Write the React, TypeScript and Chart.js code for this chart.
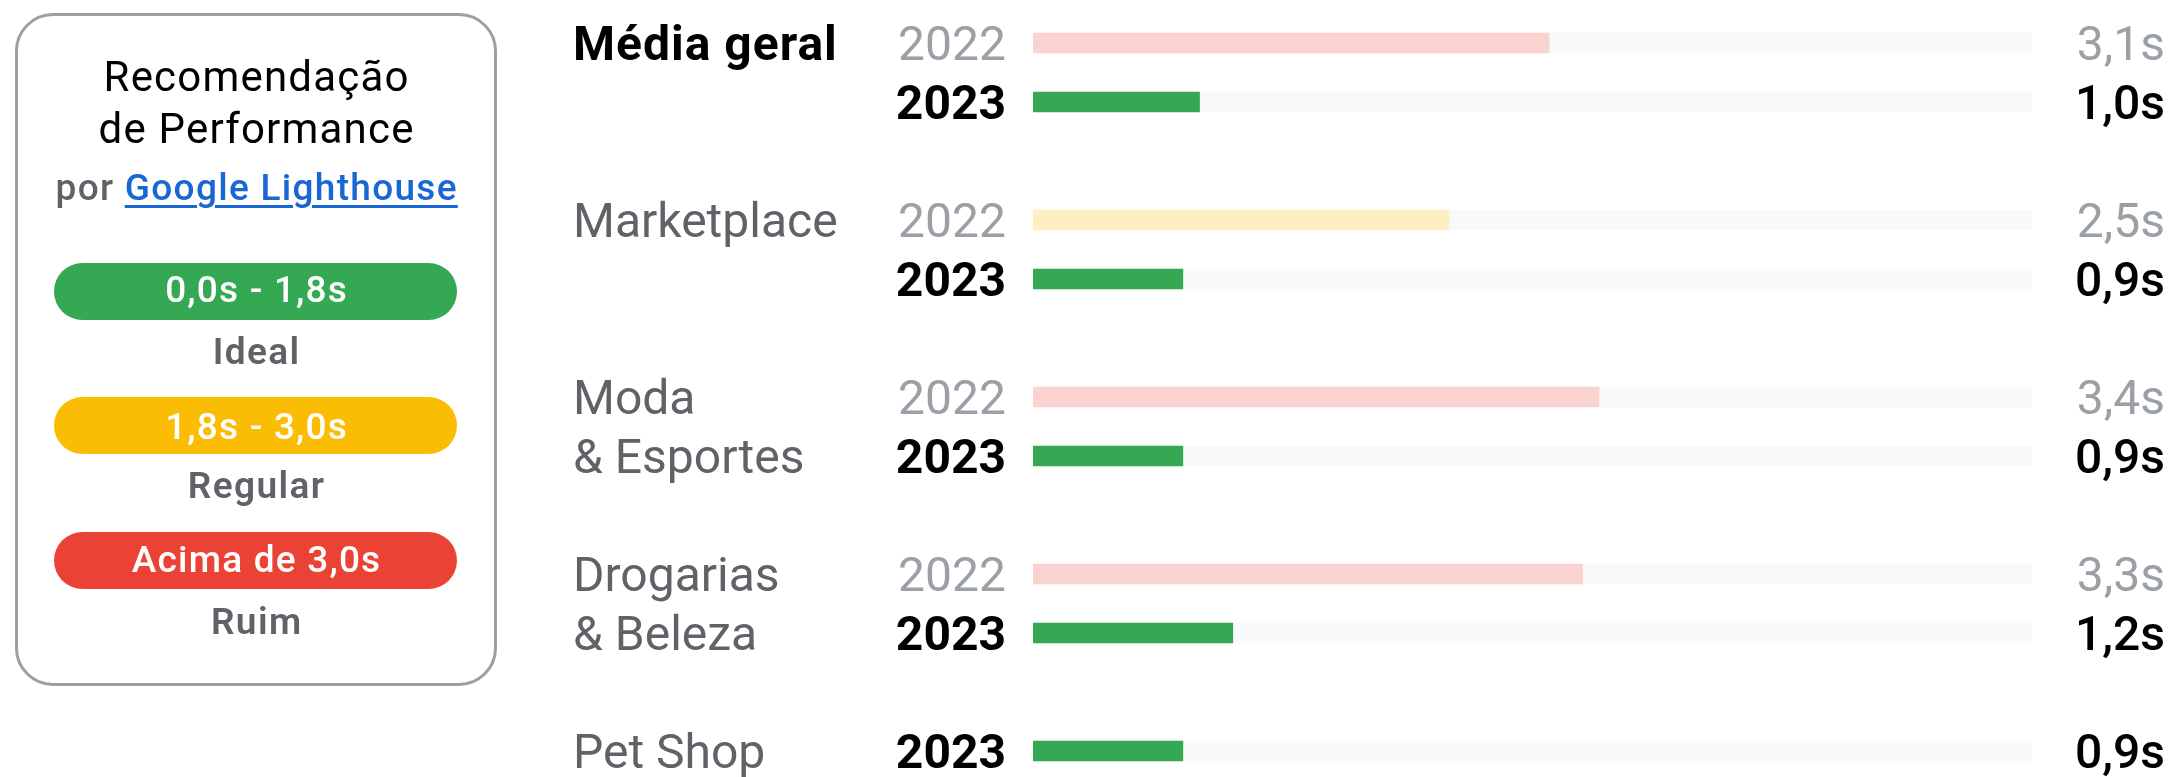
import React, { useEffect, useRef } from 'react';
import { Chart, registerables } from 'chart.js';

Chart.register(...registerables);

// ---- data ----
const categories = ['Média geral', 'Marketplace', 'Moda\n& Esportes', 'Drogarias\n& Beleza', 'Pet Shop'];
const years = ['2022', '2023'];
const values2022: (number | null)[] = [3.1, 2.5, 3.4, 3.3, null];
const values2023: (number | null)[] = [1.0, 0.9, 0.9, 1.2, 0.9];
const axisMax = 6;
const thresholds = [1.8, 3.0];
const legendRanges = ['0,0s - 1,8s', '1,8s - 3,0s', 'Acima de 3,0s'];
const legendNames = ['Ideal', 'Regular', 'Ruim'];

// ---- styles ----
const solidColors = ['#34a853', '#fbbc04', '#ea4335'];
const lightColors = ['#ceead6', '#feefc3', '#fad2cf'];
const trackColor = '#f8f9fa';
const FONT = 'Roboto, "Noto Sans", sans-serif';

type Row = { cat: number; year: number; value: number };
const slots: (Row | null)[] = [];
categories.forEach((_, ci) => {
  const vals = [values2022[ci], values2023[ci]];
  vals.forEach((v, yi) => {
    if (v != null) slots.push({ cat: ci, year: yi, value: v });
  });
  if (ci < categories.length - 1) slots.push(null);
});

const level = (v: number) => (v <= thresholds[0] ? 0 : v <= thresholds[1] ? 1 : 2);
const fmt = (v: number) => v.toFixed(1).replace('.', ',') + 's';

const labelPlugin = {
  id: 'rowLabels',
  afterDatasetsDraw(chart: any) {
    const { ctx, chartArea } = chart;
    const y = chart.scales.y;
    ctx.save();
    ctx.textBaseline = 'alphabetic';
    slots.forEach((s, i) => {
      if (!s) return;
      const base = y.getPixelForValue(i) + 17;
      const cur = s.year === 1;
      ctx.textAlign = 'right';
      ctx.fillStyle = cur ? '#000000' : '#9aa0a6';
      ctx.font = `${cur ? 700 : 400} 48px ${FONT}`;
      ctx.fillText(years[s.year], chartArea.left - 27, base);
      ctx.font = `${cur ? 500 : 400} 48px ${FONT}`;
      ctx.fillText(fmt(s.value), chartArea.right + 133, base);
    });
    categories.forEach((c, ci) => {
      const idx: number[] = [];
      slots.forEach((s, i) => {
        if (s && s.cat === ci) idx.push(i);
      });
      const lines = c.split('\n');
      const main = ci === 0;
      ctx.textAlign = 'left';
      ctx.fillStyle = main ? '#000000' : '#5f6368';
      ctx.font = `${main ? 700 : 400} 48px ${FONT}`;
      (ctx as any).letterSpacing = main ? '1px' : '0px';
      lines.forEach((line, li) => {
        const base = y.getPixelForValue(idx[Math.min(li, idx.length - 1)]) + 17;
        ctx.fillText(line, chartArea.left - 460, base);
      });
      (ctx as any).letterSpacing = '0px';
    });
    ctx.restore();
  },
};

function ChartView() {
  const ref = useRef<HTMLCanvasElement | null>(null);
  useEffect(() => {
    if (!ref.current) return;
    const chart = new Chart(ref.current, {
      type: 'bar',
      data: {
        labels: slots.map((_, i) => 's' + i),
        datasets: [
          {
            label: 'value',
            data: slots.map((s) => (s ? s.value : null)),
            backgroundColor: slots.map((s) =>
              s ? (s.year === 1 ? solidColors[level(s.value)] : lightColors[level(s.value)]) : 'transparent'
            ),
            barThickness: 20,
            grouped: false,
            order: 1,
          } as any,
          {
            label: 'track',
            data: slots.map((s) => (s ? axisMax : null)),
            backgroundColor: trackColor,
            barThickness: 20,
            grouped: false,
            order: 2,
          } as any,
        ],
      },
      options: {
        indexAxis: 'y',
        responsive: false,
        animation: false,
        devicePixelRatio: 1,
        layout: { padding: { left: 1033, right: 149, top: 13.5, bottom: 29.5 } },
        plugins: { legend: { display: false }, tooltip: { enabled: false } },
        scales: {
          x: { type: 'linear', min: 0, max: axisMax, display: false },
          y: { type: 'category', display: false },
        },
      },
      plugins: [labelPlugin],
    });
    return () => chart.destroy();
  }, []);
  return <canvas ref={ref} width={2181} height={810} style={{ display: 'block', position: 'absolute', left: 0, top: 0 }} />;
}

function TextLine(props: {
  text: React.ReactNode;
  baseline: number;
  size: number;
  weight?: number;
  color?: string;
  cx?: number;
  spacing?: number;
}) {
  const { text, baseline, size, weight = 400, color = '#000', cx = 256, spacing = 0 } = props;
  const lh = size * 1.2;
  const top = baseline - lh / 2 - 0.342 * size;
  return (
    <div
      style={{
        position: 'absolute',
        left: cx - 300 + spacing / 2,
        width: 600,
        top,
        height: lh,
        lineHeight: `${lh}px`,
        fontSize: size,
        fontWeight: weight,
        color,
        textAlign: 'center',
        fontFamily: FONT,
        whiteSpace: 'nowrap',
        letterSpacing: spacing,
      }}
    >
      {text}
    </div>
  );
}

function Legend() {
  const pillTops = [263, 397, 532];
  const pillBase = [303, 440, 573];
  const nameBase = [365, 499, 635];
  return (
    <>
      <div
        style={{
          position: 'absolute',
          left: 15,
          top: 13,
          width: 482,
          height: 673,
          boxSizing: 'border-box',
          border: '3px solid #9aa0a6',
          borderRadius: 38,
          background: '#fff',
        }}
      />
      <TextLine text="Recomendação" baseline={92} size={42} spacing={1.2} />
      <TextLine text="de Performance" baseline={144} size={42} spacing={1.2} />
      <TextLine
        baseline={201}
        size={37}
        weight={500}
        color="#5f6368"
        spacing={1.3}
        text={
          <>
            por{' '}
            <span style={{ color: '#1967d2', textDecoration: 'underline', textDecorationThickness: 3, textUnderlineOffset: 5 }}>
              Google Lighthouse
            </span>
          </>
        }
      />
      {legendRanges.map((r, i) => (
        <React.Fragment key={r}>
          <div
            style={{
              position: 'absolute',
              left: 54,
              top: pillTops[i],
              width: 403,
              height: 57,
              borderRadius: 29,
              background: solidColors[i],
            }}
          />
          <TextLine text={r} baseline={pillBase[i]} size={37} weight={500} color="#ffffff" spacing={1.2} />
          <TextLine text={legendNames[i]} baseline={nameBase[i]} size={37} weight={600} color="#5f6368" spacing={1.4} />
        </React.Fragment>
      ))}
    </>
  );
}

export default function App() {
  return (
    <div
      style={{
        position: 'fixed',
        left: 0,
        top: 0,
        width: 2181,
        height: 777,
        overflow: 'hidden',
        background: '#ffffff',
      }}
    >
      <ChartView />
      <Legend />
    </div>
  );
}
